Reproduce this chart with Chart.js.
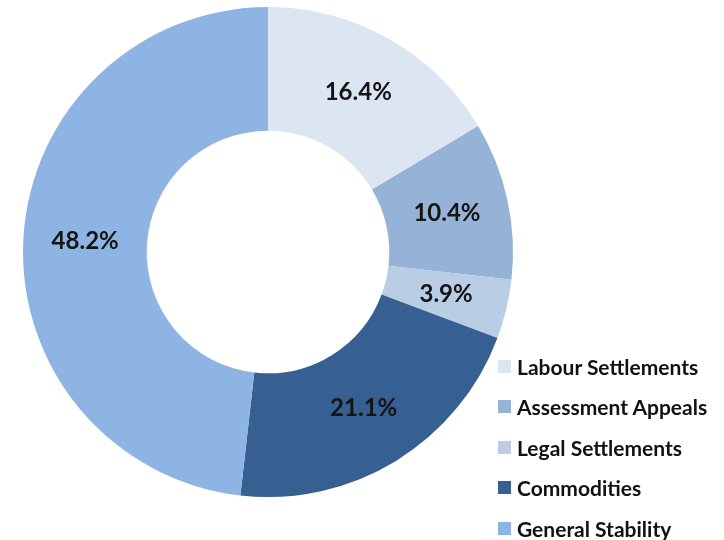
<!DOCTYPE html>
<html>
<head>
<meta charset="utf-8">
<script src="https://cdn.jsdelivr.net/npm/chart.js@4"></script>
<style>
  html, body { margin: 0; padding: 0; background: #fff; }
  .wrap { position: relative; width: 724px; height: 540px; }
  #legend { position: absolute; left: 498px; top: 346px; font-family: Lato, sans-serif; font-weight: bold; font-size: 21px; color: #111; }
  .item { display: flex; align-items: center; height: 40.5px; }
  .box { width: 13px; height: 13px; margin-right: 6px; }
</style>
</head>
<body>
<div class="wrap">
  <canvas id="pie" width="724" height="540"></canvas>
  <div id="legend"></div>
</div>
<script>
const categories = ["Labour Settlements", "Assessment Appeals", "Legal Settlements", "Commodities", "General Stability"];
const shares = [16.4, 10.4, 3.9, 21.1, 48.2];
const colors = ["#dce6f2", "#95b3d7", "#b9cde5", "#376092", "#8db4e2"];

// percentage labels in the middle of each ring segment
const sliceLabels = {
  id: "sliceLabels",
  afterDatasetsDraw(chart) {
    const ctx = chart.ctx;
    const meta = chart.getDatasetMeta(0);
    ctx.save();
    ctx.font = "bold 24px Lato, sans-serif";
    ctx.fillStyle = "#141414";
    ctx.textAlign = "center";
    ctx.textBaseline = "middle";
    meta.data.forEach((arc, i) => {
      const p = arc.tooltipPosition();
      ctx.fillText(shares[i].toFixed(1) + "%", p.x, p.y);
    });
    ctx.restore();
  },
};

new Chart(document.getElementById("pie"), {
  type: "doughnut",
  data: {
    labels: categories,
    datasets: [
      {
        data: shares,
        backgroundColor: colors,
        borderWidth: 0,
      },
    ],
  },
  options: {
    responsive: false,
    animation: false,
    cutout: "49.5%",
    layout: {
      padding: { left: 23, top: 7, right: 211, bottom: 43 },
    },
    plugins: {
      legend: { display: false },
      tooltip: { enabled: false },
    },
  },
  plugins: [sliceLabels],
});

const legend = document.getElementById("legend");
categories.forEach((name, i) => {
  const row = document.createElement("div");
  row.className = "item";
  row.innerHTML = `<span class="box" style="background:${colors[i]}"></span><span>${name}</span>`;
  legend.appendChild(row);
});
</script>
</body>
</html>
